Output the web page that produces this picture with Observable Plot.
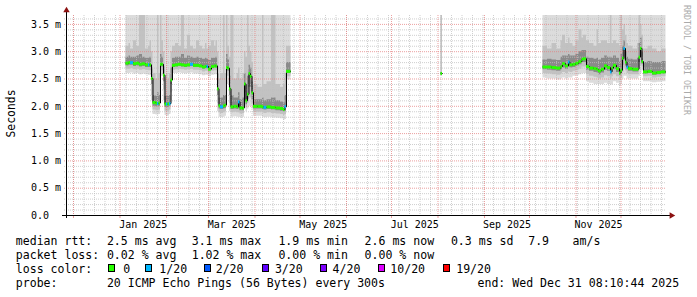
<!DOCTYPE html>
<html>
<head>
<meta charset="utf-8">
<script src="https://cdn.jsdelivr.net/npm/d3@7"></script>
<script src="https://cdn.jsdelivr.net/npm/@observablehq/plot@0.6"></script>
<style>
  html, body { margin: 0; padding: 0; background: #fff; }
  #wrap { position: relative; width: 697px; height: 297px; overflow: hidden; background: #fff; }
  #chart svg { display: block; }
  .lg { position: absolute; font-family: "DejaVu Sans Mono", monospace; font-size: 11.55px; line-height: 14px; color: #000; white-space: pre; }
  .box { position: absolute; width: 5px; height: 6px; border: 1px solid #000; }
</style>
</head>
<body>
<div id="wrap"><div id="chart"></div><div id="legend"></div></div>
<script>
// ---------- data ----------
const dates = [
"2025-01-05","2025-01-07","2025-01-08","2025-01-10","2025-01-12","2025-01-14","2025-01-16","2025-01-18","2025-01-20","2025-01-21",
"2025-01-22","2025-01-23","2025-01-25","2025-01-26","2025-01-27","2025-01-28","2025-01-29","2025-01-30","2025-01-31","2025-02-01",
"2025-02-02","2025-02-03","2025-02-04","2025-02-05","2025-02-07","2025-02-09","2025-02-11","2025-02-13","2025-02-15","2025-02-17",
"2025-02-19","2025-02-21","2025-02-23","2025-02-25","2025-02-27","2025-02-28","2025-03-01","2025-03-03","2025-03-05","2025-03-06",
"2025-03-07","2025-03-08","2025-03-09","2025-03-11","2025-03-12","2025-03-13","2025-03-14","2025-03-15","2025-03-16","2025-03-18",
"2025-03-20","2025-03-21","2025-03-22","2025-03-24","2025-03-25","2025-03-26","2025-03-27","2025-03-28","2025-03-29","2025-03-30",
"2025-03-31","2025-04-03","2025-04-06","2025-04-07","2025-04-09","2025-04-12","2025-04-15","2025-04-18","2025-04-20","2025-04-21",
"2025-04-22","2025-04-25",
"2025-06-01",
"2025-08-03","2025-08-04",
"2025-09-01",
"2025-10-10","2025-10-13","2025-10-16","2025-10-19","2025-10-22","2025-10-23","2025-10-25","2025-10-27","2025-10-28","2025-10-30",
"2025-11-01","2025-11-03","2025-11-05","2025-11-06","2025-11-08","2025-11-10","2025-11-13","2025-11-15","2025-11-16","2025-11-18",
"2025-11-20","2025-11-22","2025-11-24","2025-11-25","2025-11-26","2025-11-28","2025-11-30","2025-12-01","2025-12-02","2025-12-03",
"2025-12-04","2025-12-05","2025-12-06","2025-12-09","2025-12-12","2025-12-13","2025-12-14","2025-12-15","2025-12-16","2025-12-19",
"2025-12-22","2025-12-25","2025-12-28","2025-12-31"
];
// median rtt (ms); null = no data
const medians = [
2.79,2.80,2.80,2.78,2.79,2.77,2.78,2.76,2.76,2.76,
2.51,2.07,2.06,2.05,2.06,2.77,2.77,2.57,2.04,2.04,
2.04,2.05,2.48,2.75,2.76,2.77,2.76,2.75,2.76,2.77,
2.75,2.75,2.74,2.72,2.73,2.73,2.68,2.73,2.74,2.74,
2.32,2.01,1.99,2.01,2.02,2.71,2.70,2.32,1.99,2.00,
1.99,2.08,1.97,1.97,2.41,2.10,2.22,2.60,2.55,2.25,
2.00,2.00,1.99,1.98,1.99,1.98,1.97,1.96,1.94,1.99,
2.64,2.64,
null,
2.60,2.60,
null,
2.72,2.72,2.71,2.70,2.73,2.78,2.74,2.81,2.76,2.77,
2.79,2.82,2.86,2.87,2.73,2.70,2.69,2.68,2.65,2.68,
2.74,2.71,2.63,2.70,2.75,2.69,2.61,2.66,2.88,3.06,
2.81,2.72,2.69,2.68,2.68,2.90,3.06,2.82,2.63,2.64,
2.61,2.62,2.63,2.63
];
// lost pings out of 20
const losses = [
0,0,1,0,0,0,0,0,1,0,
0,0,0,1,0,0,0,0,0,1,
0,1,0,0,0,0,0,0,0,1,
0,0,0,0,0,1,0,0,0,0,
0,0,1,0,0,0,0,0,0,0,
0,1,0,0,0,0,0,0,0,0,
0,0,0,1,0,0,0,0,0,1,
0,0,
null,
0,0,
null,
0,0,0,0,0,0,0,1,0,0,
0,0,0,0,0,0,0,0,0,0,
0,0,1,0,0,0,0,0,0,1,
0,1,0,0,0,0,0,0,0,0,
0,0,0,0
];
// smoke: spread of the 20 pings (ms)
const smokeMin = [
2.60,2.60,2.61,2.59,2.60,2.58,2.59,2.58,2.57,2.57,
2.10,1.85,1.84,1.84,1.85,2.55,2.55,2.10,1.83,1.82,
1.83,1.85,2.10,2.60,2.60,2.61,2.60,2.59,2.60,2.61,
2.59,2.59,2.58,2.56,2.57,2.57,2.54,2.57,2.58,2.58,
1.90,1.80,1.79,1.80,1.82,2.40,2.40,1.90,1.80,1.81,
1.80,1.80,1.79,1.80,2.00,1.90,1.95,2.00,2.00,1.95,
1.82,1.82,1.80,1.79,1.80,1.79,1.78,1.77,1.74,1.76,
2.48,2.48,
null,
2.55,2.55,
null,
2.52,2.50,2.50,2.48,2.50,2.52,2.50,2.52,2.52,2.55,
2.56,2.58,2.60,2.60,2.45,2.42,2.40,2.40,2.40,2.40,
2.42,2.40,2.38,2.40,2.45,2.42,2.36,2.40,2.50,2.55,
2.55,2.50,2.50,2.50,2.50,2.55,2.60,2.65,2.45,2.45,
2.43,2.44,2.45,2.45
];
const smokeP10 = [
2.68,2.68,2.69,2.67,2.68,2.66,2.67,2.66,2.65,2.65,
2.20,1.93,1.92,1.92,1.93,2.65,2.65,2.30,1.91,1.90,
1.91,1.93,2.25,2.66,2.67,2.68,2.67,2.66,2.67,2.68,
2.66,2.66,2.65,2.63,2.64,2.64,2.60,2.64,2.65,2.65,
2.05,1.88,1.87,1.88,1.90,2.55,2.55,2.05,1.88,1.89,
1.88,1.88,1.86,1.87,2.10,1.97,2.05,2.15,2.15,2.05,
1.89,1.89,1.88,1.87,1.88,1.87,1.86,1.85,1.83,1.85,
2.54,2.54,
null,
2.57,2.57,
null,
2.60,2.59,2.58,2.57,2.59,2.62,2.60,2.63,2.62,2.64,
2.65,2.68,2.72,2.72,2.58,2.55,2.53,2.52,2.50,2.52,
2.56,2.54,2.50,2.54,2.58,2.54,2.48,2.52,2.62,2.70,
2.65,2.60,2.58,2.58,2.58,2.68,2.75,2.72,2.54,2.55,
2.52,2.53,2.54,2.54
];
const smokeP25 = [
2.74,2.75,2.75,2.73,2.74,2.72,2.73,2.71,2.71,2.71,
2.40,2.00,1.99,1.99,2.00,2.72,2.72,2.45,1.98,1.98,
1.98,2.00,2.40,2.71,2.72,2.73,2.72,2.71,2.72,2.73,
2.71,2.71,2.70,2.68,2.69,2.69,2.65,2.69,2.70,2.70,
2.20,1.95,1.94,1.95,1.96,2.65,2.64,2.20,1.94,1.95,
1.94,1.95,1.92,1.92,2.25,2.03,2.12,2.35,2.35,2.12,
1.95,1.95,1.94,1.93,1.94,1.93,1.92,1.91,1.89,1.91,
2.60,2.60,
null,
2.58,2.58,
null,
2.67,2.66,2.65,2.64,2.67,2.70,2.68,2.72,2.70,2.71,
2.73,2.76,2.80,2.80,2.66,2.64,2.62,2.61,2.58,2.61,
2.66,2.64,2.58,2.63,2.67,2.62,2.56,2.60,2.75,2.85,
2.74,2.67,2.64,2.63,2.63,2.80,2.90,2.77,2.59,2.60,
2.57,2.58,2.59,2.59
];
const smokeP75 = [
2.90,2.92,2.90,2.90,2.92,2.95,2.90,2.88,2.88,2.90,
2.70,2.20,2.18,2.25,2.20,2.95,2.90,2.72,2.18,2.20,
2.18,2.20,2.70,2.88,2.90,2.90,2.95,2.88,2.92,2.90,
2.88,2.90,2.88,2.86,2.88,2.86,2.84,2.88,2.88,2.90,
2.60,2.15,2.15,2.20,2.20,2.95,2.85,2.55,2.20,2.15,
2.15,2.25,2.12,2.15,2.60,2.40,2.55,2.75,2.70,2.45,
2.12,2.12,2.15,2.10,2.12,2.15,2.10,2.08,2.06,2.20,
2.80,2.80,
null,
2.62,2.62,
null,
2.85,2.86,2.85,2.84,2.90,2.92,2.92,2.95,2.92,2.92,
2.95,3.00,3.02,3.02,2.90,2.88,2.86,2.88,2.85,2.88,
2.92,2.90,2.90,2.88,2.92,2.88,2.82,2.95,3.10,3.20,
3.00,2.90,2.86,2.85,2.88,3.15,3.25,3.00,2.80,2.82,
2.80,2.80,2.82,2.82
];
const smokeP90 = [
3.10,3.15,3.05,3.20,3.10,3.70,3.70,3.05,3.10,3.20,
3.00,2.60,2.50,3.70,2.60,3.70,3.20,3.00,2.50,2.60,
2.50,2.60,3.00,3.10,3.15,3.10,3.70,3.05,3.30,3.10,
3.05,3.20,3.10,3.05,3.15,3.05,3.10,3.20,3.10,3.20,
3.00,2.50,2.60,3.70,2.60,3.70,3.10,2.90,3.70,2.50,
2.60,2.70,2.50,2.60,3.00,2.90,3.70,3.10,3.00,2.80,
2.40,2.35,3.70,2.40,2.45,3.70,2.40,2.35,2.40,2.60,
3.10,3.10,
null,
3.70,3.70,
null,
3.10,3.05,3.15,3.05,3.20,3.30,3.15,3.25,3.15,3.10,
3.20,3.40,3.25,3.30,3.20,3.15,3.10,3.40,3.15,3.20,
3.20,3.15,3.70,3.15,3.20,3.15,3.10,3.70,3.40,3.50,
3.30,3.15,3.10,3.05,3.15,3.70,3.50,3.30,3.05,3.10,
3.05,3.00,3.05,3.05
];
const smokeMax = [
3.70,3.70,3.70,3.70,3.70,3.70,3.70,3.70,3.70,3.70,
3.70,3.70,3.70,3.70,3.70,3.70,3.70,3.70,3.70,3.70,
3.70,3.70,3.70,3.70,3.70,3.70,3.70,3.70,3.70,3.70,
3.70,3.70,3.70,3.70,3.70,3.70,3.70,3.70,3.70,3.70,
3.70,3.70,3.70,3.70,3.70,3.70,3.70,3.70,3.70,3.70,
3.70,3.70,3.70,3.70,3.70,3.70,3.70,3.70,3.70,3.70,
3.70,3.70,3.70,3.70,3.70,3.70,3.70,3.70,3.70,3.70,
3.70,3.70,
null,
3.70,3.70,
null,
3.70,3.70,3.70,3.70,3.70,3.70,3.70,3.70,3.70,3.70,
3.70,3.70,3.70,3.70,3.70,3.70,3.70,3.70,3.70,3.70,
3.70,3.70,3.70,3.70,3.70,3.70,3.70,3.70,3.70,3.70,
3.70,3.70,3.70,3.70,3.70,3.70,3.70,3.70,3.70,3.70,
3.70,3.70,3.70,3.70
];

const yTicks = [0, 0.5, 1.0, 1.5, 2.0, 2.5, 3.0, 3.5];
const yTickLabels = ["0.0", "0.5 m", "1.0 m", "1.5 m", "2.0 m", "2.5 m", "3.0 m", "3.5 m"];
const xLabelMonths = ["2025-01-01", "2025-03-01", "2025-05-01", "2025-07-01", "2025-09-01", "2025-11-01"];

const lossLabels = ["0", "1/20", "2/20", "3/20", "4/20", "10/20", "19/20"];
const lossThresholds = [0, 1, 2, 3, 4, 10, 19];
const lossColors = ["#26ff00", "#00b8ff", "#0059ff", "#5e00ff", "#7e00ff", "#dd00ff", "#ff0000"];

const rttStats = ["2.5 ms avg", "3.1 ms max", "1.9 ms min", "2.6 ms now", "0.3 ms sd"];
const ampStats = ["7.9", "am/s"];
const lossStats = ["0.02 % avg", "1.02 % max", "0.00 % min", "0.00 % now"];
const probeText = "20 ICMP Echo Pings (56 Bytes) every 300s";
const endText = "end: Wed Dec 31 08:10:44 2025";
const timeStart = "2024-11-26T08:10:44Z";
const timeEnd = "2025-12-31T08:10:44Z";

// ---------- build ----------
[medians, losses, smokeMin, smokeP10, smokeP25, smokeP75, smokeP90, smokeMax].forEach((a, k) => {
  if (a.length !== dates.length) throw new Error("length mismatch in array " + k + ": " + a.length + " vs " + dates.length);
});

function lossColor(l) {
  let c = lossColors[0];
  lossThresholds.forEach((t, i) => { if (l >= t) c = lossColors[i]; });
  return c;
}

const rows = dates.map((d, i) => ({
  date: new Date(d),
  median: medians[i],
  loss: losses[i],
  min: smokeMin[i], p10: smokeP10[i], p25: smokeP25[i], p75: smokeP75[i], p90: smokeP90[i], max: smokeMax[i],
  next: (medians[i] != null && i + 1 < dates.length && medians[i + 1] != null) ? new Date(dates[i + 1]) : null
}));
const lossSegs = rows.filter(r => r.next !== null);

const x0 = new Date(timeStart), x1 = new Date(timeEnd);
const yMax = 3.663;
const months = d3.utcMonth.range(x0, x1);
const weeks = d3.utcSunday.range(x0, x1);
const minorY = d3.range(1, 37).map(i => i / 10).filter(v => Math.round(v * 10) % 5 !== 0);
const majorY = yTicks.filter(v => v > 0);
const labelMids = xLabelMonths.map(m => { const a = new Date(m); return new Date((+a + +d3.utcMonth.offset(a, 1)) / 2); });

const GRID = "rgba(191,191,191,0.75)";
const MGRID = "rgba(230,128,128,0.75)";
const ARROW = "#8b1010";
const dash = "1,1";

const chart = Plot.plot({
  width: 697, height: 232,
  marginLeft: 66, marginRight: 31, marginTop: 15, marginBottom: 17,
  x: { type: "utc", domain: [x0, x1], axis: null },
  y: { domain: [0, yMax], axis: null },
  color: { type: "identity" },
  style: { fontFamily: "DejaVu Sans Mono", fontSize: "10px", background: "white", overflow: "visible", color: "#000" },
  marks: [
    // smoke
    Plot.areaY(rows, { x: "date", y1: "min", y2: "max", curve: "step-after", fill: "#dcdcdc", clip: true }),
    Plot.areaY(rows, { x: "date", y1: "p10", y2: "p90", curve: "step-after", fill: "#c2c2c2", clip: true }),
    Plot.areaY(rows, { x: "date", y1: "p25", y2: "p75", curve: "step-after", fill: "#8a8a8a", clip: true }),
    // grid
    Plot.ruleY(minorY, { stroke: GRID, strokeDasharray: dash, insetLeft: -2 }),
    Plot.ruleX(weeks, { stroke: GRID, strokeDasharray: dash }),
    Plot.ruleY(majorY, { stroke: MGRID, strokeDasharray: dash, insetLeft: -2 }),
    Plot.ruleX(months, { stroke: MGRID, strokeDasharray: dash }),
    Plot.ruleX(months, { y1: 0, y2: 0, insetBottom: -3, stroke: MGRID }),
    // median + loss colour
    Plot.line(rows, { x: "date", y: "median", curve: "step-after", stroke: "#000", strokeWidth: 1 }),
    Plot.ruleY(lossSegs, { y: "median", x1: "date", x2: "next", stroke: d => lossColor(d.loss), strokeWidth: 3 }),
    // axes
    Plot.ruleX([x0], { stroke: "#000", insetTop: -5, insetBottom: -3 }),
    Plot.ruleY([0], { stroke: "#000", insetLeft: -4, insetRight: -4 }),
    Plot.dot([0], { frameAnchor: "top-left", dy: -5, symbol: "triangle", r: 2.4, fill: ARROW, stroke: "none" }),
    Plot.dot([0], { frameAnchor: "bottom-right", dx: 5, symbol: "triangle", rotate: 90, r: 2.4, fill: ARROW, stroke: "none" }),
    Plot.text(yTicks, { y: d => d, text: (d, i) => yTickLabels[i], frameAnchor: "left", dx: -35.5, textAnchor: "start", lineAnchor: "middle", fill: "#000" }),
    Plot.text(labelMids, { x: d => d, text: d => d3.utcFormat("%b %Y")(d), frameAnchor: "bottom", dy: 9.5, textAnchor: "middle", lineAnchor: "middle", fill: "#000" }),
    Plot.text(["Seconds"], { text: d => d, frameAnchor: "left", dx: -55.5, rotate: -90, textAnchor: "middle", lineAnchor: "middle", fontSize: 11.4, fill: "#000" }),
    Plot.text(["RRDTOOL / TOBI OETIKER"], { text: d => d, frameAnchor: "top-right", dx: 19.5, dy: 45, rotate: 90, textAnchor: "middle", lineAnchor: "middle", fontSize: 8.3, fill: "#aaaaaa" })
  ]
});
document.getElementById("chart").appendChild(chart);

// make sure the rotated labels sit centred where the reference has them
function centreText(str, cx, cy) {
  const svgRect = chart.getBoundingClientRect();
  chart.querySelectorAll("text").forEach(t => {
    if (t.textContent !== str) return;
    const r = t.getBoundingClientRect();
    const dx = cx - (r.left - svgRect.left + r.width / 2);
    const dy = cy - (r.top - svgRect.top + r.height / 2);
    const tr = t.getAttribute("transform") || "";
    t.setAttribute("transform", `translate(${dx.toFixed(2)},${dy.toFixed(2)}) ` + tr);
  });
}
centreText("Seconds", 10.8, 113.5);
centreText("RRDTOOL / TOBI OETIKER", 686.5, 60);

// ---------- legend below the svg ----------
const legend = document.getElementById("legend");
function put(text, left, top) {
  const s = document.createElement("span");
  s.className = "lg"; s.textContent = text;
  s.style.left = left + "px"; s.style.top = top + "px";
  legend.appendChild(s);
}
const rowTop = [233.8, 248.0, 261.6, 275.5];
const colX = [106.9, 191.7, 278.4, 364.6, 450.9];
put("median rtt:", 15.8, rowTop[0]);
rttStats.forEach((t, i) => put(t, colX[i], rowTop[0]));
put(ampStats[0], 528.2, rowTop[0]);
put(ampStats[1], 572.6, rowTop[0]);
put("packet loss:", 15.8, rowTop[1]);
lossStats.forEach((t, i) => put(t, colX[i], rowTop[1]));
put("loss color:", 15.8, rowTop[2]);
const boxX = [108.4, 145.3, 203.6, 262.2, 320.0, 377.8, 443.1];
const labX = [123.3, 159.3, 215.7, 274.9, 332.6, 390.3, 456.2];
lossLabels.forEach((t, i) => {
  const b = document.createElement("div");
  b.className = "box";
  b.style.left = boxX[i] + "px"; b.style.top = "264.3px";
  b.style.background = lossColors[i];
  legend.appendChild(b);
  put(t, labX[i], rowTop[2]);
});
put("probe:", 15.8, rowTop[3]);
put(probeText, 106.9, rowTop[3]);
put(endText, 477.5, rowTop[3]);
</script>
</body>
</html>
